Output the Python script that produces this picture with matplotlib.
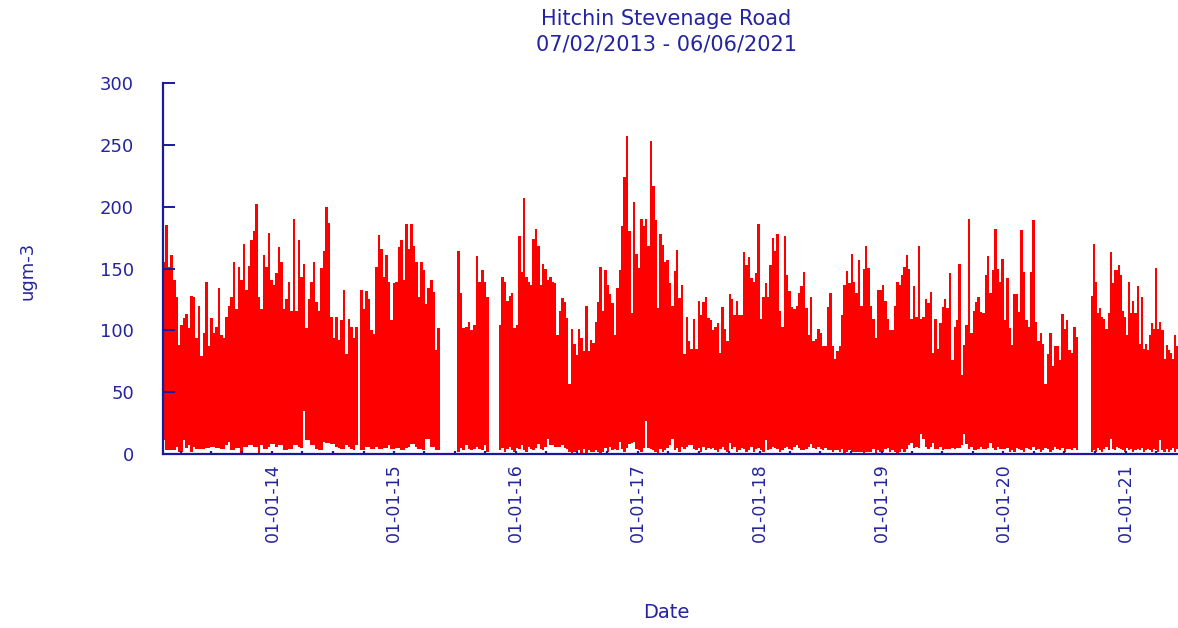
import numpy as np
import matplotlib
matplotlib.use("Agg")
import matplotlib.pyplot as plt
import matplotlib.dates as mdates
from datetime import datetime

nan = np.nan

# ---------------- data ----------------
title_line1 = "Hitchin Stevenage Road"
title_line2 = "07/02/2013 - 06/06/2021"
y_label = "ugm-3"
x_label = "Date"
y_ticks = [0, 50, 100, 150, 200, 250, 300]
x_tick_years = [2014, 2015, 2016, 2017, 2018, 2019, 2020, 2021]

# contiguous measurement blocks (start, end)
block_starts = ["2013-02-07", "2015-07-08", "2015-11-11", "2020-09-19"]
block_ends = ["2015-05-18", "2015-10-12", "2020-08-11", "2021-06-07"]

# weekly maximum values per block
b1_max = [155, 185, 151, 161, 141, 127, 88, 104, 110, 113,
          102, 128, 127, 94, 120, 79, 98, 139, 87, 110,
          98, 103, 134, 96, 94, 111, 120, 127, 155, 117,
          151, 141, 170, 133, 152, 173, 180, 202, 127, 117,
          161, 151, 179, 141, 137, 146, 167, 155, 117, 125,
          139, 116, 190, 116, 173, 143, 154, 102, 125, 139,
          155, 123, 116, 150, 164, 200, 187, 111, 94, 111,
          92, 108, 133, 81, 109, 103, 94, 103, nan, 133,
          117, 132, 125, 100, 97, 151, 177, 166, 143, 161,
          139, 108, 138, 139, 167, 173, 141, 186, 166, 186,
          168, 155, 127, 155, 149, 121, 134, 141, 131, 84, 102]
b1_min = [11, 3, 3, 3, 3, 6, 2, 2, 11, 5,
          7, 2, 6, 4, 4, 4, 4, 5, 5, 6,
          6, 5, 5, 4, 4, 7, 10, 3, 3, 5,
          5, 1, 6, 6, 7, 7, 6, 6, 1, 7,
          4, 4, 6, 8, 8, 6, 7, 7, 3, 3,
          4, 4, 7, 7, 6, 5, 35, 11, 11, 7,
          7, 4, 3, 3, 10, 9, 9, 8, 8, 6,
          5, 4, 4, 7, 6, 4, 3, 7, nan, 3,
          3, 6, 6, 4, 4, 6, 4, 4, 5, 5,
          7, 4, 4, 5, 5, 3, 3, 5, 6, 8,
          8, 6, 4, 4, 3, 12, 12, 6, 6, 3, 3]

b2_max = [164, 130, 102, 103, 107, 100, 104, 160, 139, 149, 139, 127]
b2_min = [2, 5, 3, 7, 4, 3, 4, 6, 4, 3, 7, 2]

b3_max = [104, 143, 139, 124, 128, 130, 102, 104, 176, 147,
          207, 143, 139, 137, 174, 182, 168, 137, 154, 150,
          141, 143, 139, 138, 96, 116, 126, 123, 110, 57,
          101, 89, 80, 101, 94, 83, 120, 83, 92, 90,
          107, 123, 151, 116, 149, 137, 129, 122, 96, 134,
          149, 184, 224, 257, 180, 114, 204, 162, 150, 190,
          184, 190, 168, 253, 217, 189, 118, 178, 169, 155,
          157, 138, 120, 148, 165, 126, 137, 81, 111, 91,
          85, 109, 85, 124, 112, 123, 127, 110, 108, 100,
          103, 106, 82, 119, 101, 91, 129, 125, 112, 124,
          112, 112,
          163, 153, 159, 142, 139, 146, 186, 109, 127, 138,
          127, 153, 175, 164, 178, 116, 103, 176, 145, 132,
          119, 117, 120, 130, 136, 147, 118, 96, 127, 91,
          93, 101, 98, 87, 87, 119, 130, 87, 77, 83,
          87, 112, 137, 148, 138, 162, 139, 130, 157, 120,
          150, 168, 150, 120, 109, 94, 133, 133, 137, 124,
          109, 100, 100, 120, 139, 137, 145, 151, 161, 150,
          109, 136, 111, 168, 109, 111, 125, 122, 131, 82,
          109, 85, 106, 119, 125, 118, 146, 76, 103, 108,
          154, 64, 88, 104, 190, 98, 116, 123, 127, 115,
          114, 145, 160, 130, 149, 182, 150, 139, 158, 108,
          142, 102, 88, 129, 129, 115, 181, 147, 108, 103,
          147, 189, 107,
          91, 98, 89, 57, 81, 98, 71, 87, 87, 76,
          113, 101, 108, 84, 82, 103, 95]
b3_min = [3, 5, 2, 4, 6, 3, 2, 5, 4, 7,
          3, 2, 6, 4, 3, 5, 8, 4, 3, 6,
          12, 7, 7, 6, 6, 6, 7, 5, 4, 2,
          1, 2, 1, 3, 1, 4, 1, 3, 2, 2,
          3, 2, 1, 2, 5, 2, 6, 3, 4, 3,
          10, 4, 2, 5, 8, 9, 10, 4, 3, 2,
          5, 27, 5, 4, 3, 2, 1, 4, 2, 3,
          5, 7, 12, 3, 5, 2, 6, 4, 6, 7,
          7, 4, 3, 5, 2, 6, 3, 5, 4, 5,
          3, 2, 4, 6, 3, 2, 9, 4, 6, 2,
          3, 5, 4, 2, 3, 6, 2, 4, 5, 3,
          2, 11, 3, 4, 6, 5, 4, 2, 3, 5,
          6, 4, 3, 6, 7, 5, 3, 3, 4, 6,
          8, 5, 4, 6, 4, 3, 5, 3, 3, 2,
          3, 3, 2, 4, 1, 2, 3, 2, 2, 2,
          2, 2, 1, 2, 2, 2, 4, 1, 3, 2,
          2, 4, 5, 2, 3, 2, 1, 2, 4, 2,
          4, 7, 9, 5, 6, 5, 16, 12, 6, 4,
          6, 9, 4, 4, 6, 3, 4, 4, 4, 5,
          4, 5, 5, 7, 16, 8, 4, 6, 3, 3,
          4, 6, 4, 4, 5, 9, 5, 3, 6, 4,
          4, 4, 5, 2, 3, 2, 5, 4, 3, 2,
          5, 4, 3, 6, 3, 4, 2, 3, 5, 4,
          2, 3, 6, 4, 3, 5, 2, 4, 4, 3,
          5, 3]

b4_max = [128, 170, 139, 114, 118, 111, 109, 101, 114, 163,
          138, 149, 149, 153, 145, 116, 111, 96, 139, 114,
          124, 114, 136, 89, 127, 85, 89, 84, 96, 106,
          101, 150, 101, 107, 100, 77, 88, 84, 82, 77,
          96, 87]
b4_min = [2, 3, 2, 5, 3, 2, 4, 6, 3, 12,
          4, 3, 6, 5, 4, 3, 2, 5, 3, 4,
          2, 3, 4, 3, 5, 2, 3, 4, 3, 2,
          4, 3, 2, 11, 3, 2, 4, 2, 3, 5,
          2, 4]

blocks_max = [b1_max, b2_max, b3_max, b4_max]
blocks_min = [b1_min, b2_min, b3_min, b4_min]

# ---------------- style ----------------
TXT = "#2424a0"
AX = "#1a1a9c"
RED = "#ff0000"
plt.rcParams["font.family"] = ["DejaVu Sans"]

W, H = 1178, 628
fig = plt.figure(figsize=(W / 100, H / 100), dpi=100)
ax = fig.add_axes([163 / W, 174 / H, 1015 / W, 371 / H])

for s, e, vmax, vmin in zip(block_starts, block_ends, blocks_max, blocks_min):
    x0 = mdates.date2num(datetime.fromisoformat(s))
    x1 = mdates.date2num(datetime.fromisoformat(e))
    vmax = np.asarray(vmax, dtype=float)
    vmin = np.asarray(vmin, dtype=float)
    n = len(vmax)
    w = (x1 - x0) / n
    xs = x0 + w * np.arange(n)
    ok = ~np.isnan(vmax)
    ax.bar(xs[ok], (vmax - vmin)[ok], bottom=vmin[ok], width=w * 1.02,
           align="edge", color=RED, linewidth=0)

ax.set_xlim(mdates.date2num(datetime(2013, 2, 7)), mdates.date2num(datetime(2021, 6, 7)))
ax.set_ylim(0, 300)
ax.set_yticks(y_ticks)
ax.set_yticklabels([str(v) for v in y_ticks])

ax.set_xticks([mdates.date2num(datetime(y, 1, 1)) for y in x_tick_years])
ax.xaxis.set_major_formatter(mdates.DateFormatter("%d-%m-%y"))
ax.xaxis.set_minor_locator(mdates.MonthLocator(bymonth=[1, 4, 7, 10]))

for sp in ["top", "right"]:
    ax.spines[sp].set_visible(False)
for sp in ["left", "bottom"]:
    ax.spines[sp].set_color(AX)
    ax.spines[sp].set_linewidth(1.6)

ax.tick_params(axis="y", direction="in", length=8.6, width=1.4, color=AX,
               labelcolor=TXT, labelsize=13, pad=21)
ax.tick_params(axis="x", which="both", direction="in", length=2.5, width=1.6,
               color=AX, labelcolor=TXT, labelsize=12.5, pad=6.5)
for lab in ax.get_xticklabels():
    lab.set_rotation(90)

fig.text(666 / W, 1 - 19 / H, title_line1, ha="center", va="center",
         color=TXT, fontsize=15)
fig.text(666 / W, 1 - 44 / H, title_line2, ha="center", va="center",
         color=TXT, fontsize=15)
fig.text(27 / W, 1 - 271 / H, y_label, ha="center", va="center",
         rotation=90, color=TXT, fontsize=13)
fig.text(666 / W, 1 - 613 / H, x_label, ha="center", va="center",
         color=TXT, fontsize=14)

fig.savefig("out.png", dpi=100, facecolor="white")
